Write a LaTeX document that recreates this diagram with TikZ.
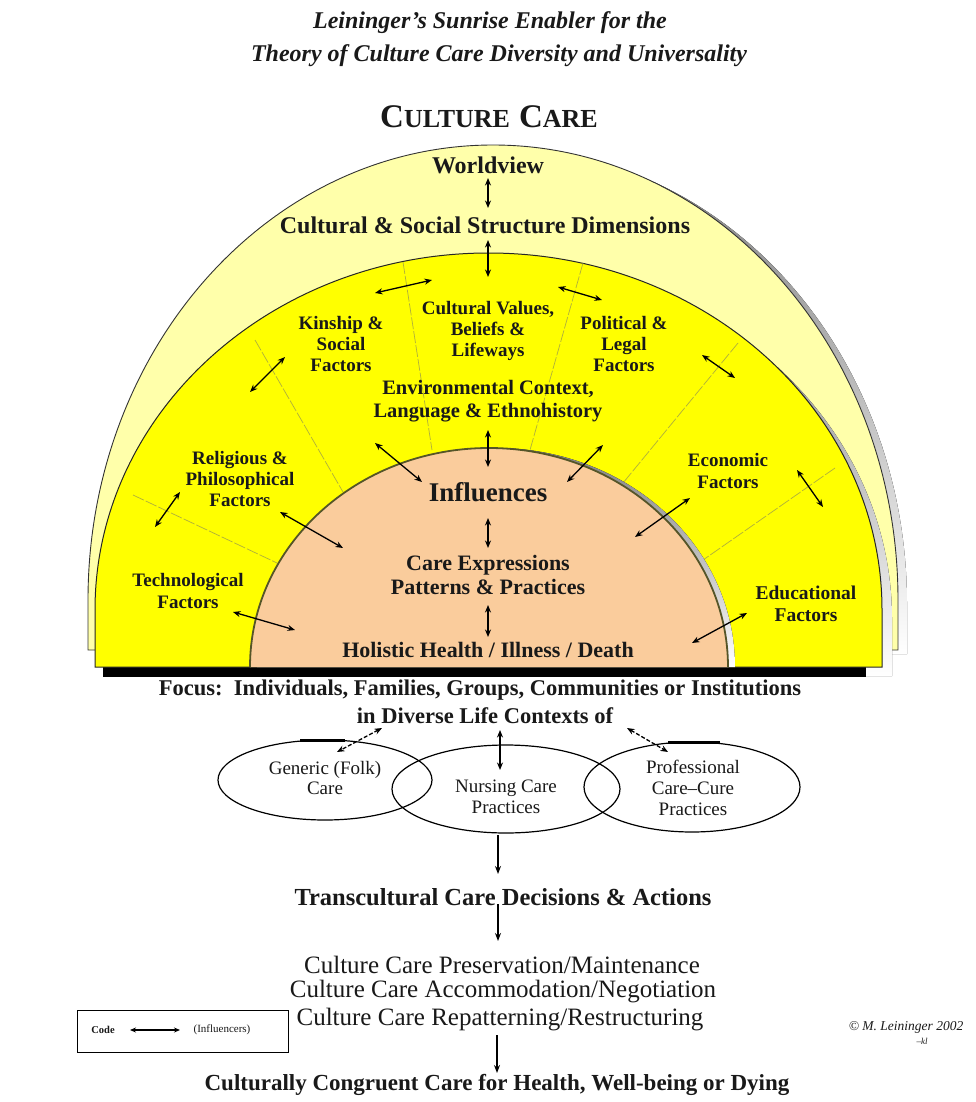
\documentclass[tikz,border=0pt]{standalone}
\usepackage{fontspec}
\setmainfont{Liberation Serif}
\usetikzlibrary{arrows.meta}
\definecolor{paleY}{RGB}{255,255,170}
\definecolor{brightY}{RGB}{255,255,0}
\definecolor{peach}{RGB}{250,204,156}
\definecolor{olive}{RGB}{85,85,40}
\definecolor{divcol}{RGB}{175,175,60}
\definecolor{shade}{RGB}{140,140,140}
\begin{document}
\begin{tikzpicture}[x=1pt,y=-1pt,
  lbl/.style={align=center,inner sep=0pt,text=black!90},
  bf/.style={lbl,font={\pgfmathsetmacro\bsk{#1*1.12}\bfseries\fontsize{#1}{\bsk}\selectfont}},
  rm/.style={lbl,font={\pgfmathsetmacro\bsk{#1*1.1}\fontsize{#1}{\bsk}\selectfont}},
  bi/.style={{Stealth[length=7.5pt,width=6pt]}-{Stealth[length=7.5pt,width=6pt]},line width=1.3pt},
  one/.style={-{Stealth[length=8pt,width=6pt]},line width=1.2pt},
  divline/.style={divcol,line width=0.7pt,dash pattern=on 12pt off 2pt}]
\useasboundingbox[fill=white] (0,0) rectangle (975,1102);

% ---- outer pale band
\begin{scope}[shift={(9,4)}]
\fill[shade] (88,650) -- (88,600) arc[start angle=180,end angle=0,x radius=405pt,y radius=455pt] -- (898,650) -- cycle;
\end{scope}
\filldraw[fill=paleY,draw=black!80,line width=0.9pt] (88,650) -- (88,600) arc[start angle=180,end angle=0,x radius=405pt,y radius=455pt] -- (898,650) -- cycle;

% ---- yellow band
\begin{scope}[shift={(10,9)}]
\fill[shade] (95,667) -- (95,610) arc[start angle=180,end angle=0,x radius=393.5pt,y radius=357pt] -- (882,667) -- cycle;
\end{scope}
\fill[black] (103,666) rectangle (866,677);
\filldraw[fill=brightY,draw=black!85,line width=1pt] (95,667) -- (95,610) arc[start angle=180,end angle=0,x radius=393.5pt,y radius=357pt] -- (882,667) -- cycle;

% ---- dividers
\draw[divline] (133,495) -- (277,563);
\draw[divline] (255,340) -- (343,492);
\draw[divline] (403,262) -- (432,450);
\draw[divline] (583,263) -- (530,450);
\draw[divline] (738,343) -- (623,483);
\draw[divline] (835,468) -- (703,560);

% ---- peach core
\fill[shade] (257,667) arc[start angle=180,end angle=0,x radius=239pt,y radius=219pt] -- cycle;
\fill[peach] (250,667) arc[start angle=180,end angle=0,x radius=239pt,y radius=219pt] -- cycle;
\draw[olive,line width=1.8pt] (250,667) arc[start angle=180,end angle=0,x radius=239pt,y radius=219pt];

% ---- titles
\node[lbl,font=\bfseries\itshape\fontsize{24}{28}\selectfont] (t1) at (490,23) {Leininger’s Sunrise Enabler for the};
\node[lbl,font=\bfseries\itshape\fontsize{24}{28}\selectfont] (t2) at (499,56) {Theory of Culture Care Diversity and Universality};
\node[lbl,font=\bfseries] (cc) at (489,117) {{\fontsize{33}{33}\selectfont C}{\fontsize{26}{33}\selectfont ULTURE}\hspace{9pt}{\fontsize{33}{33}\selectfont C}{\fontsize{26}{33}\selectfont ARE}};

% ---- arch labels
\node[bf=24] (wv) at (488,165) {Worldview};
\node[bf=24] (css) at (485,225) {Cultural \& Social Structure Dimensions};
\node[bf=19] (kin) at (341,344) {Kinship \&\\Social\\Factors};
\node[bf=19] (cvb) at (488,331) {Cultural Values,\\Beliefs \&\\Lifeways};
\node[bf=19] (pol) at (624,344) {Political \&\\Legal\\Factors};
\node[bf=20.5] (env) at (488,401) {Environmental Context,\\Language \& Ethnohistory};
\node[bf=19] (rel) at (240,479) {Religious \&\\Philosophical\\Factors};
\node[bf=19] (eco) at (728,471) {Economic\\Factors};
\node[bf=27] (inf) at (488,492) {Influences};
\node[bf=22] (cep) at (488,575) {Care Expressions\\Patterns \& Practices};
\node[bf=19] (tec) at (188,591) {Technological\\Factors};
\node[bf=19.5] (edu) at (806,604) {Educational\\Factors};
\node[bf=22] (hol) at (488,650) {Holistic Health / Illness / Death};

% ---- arch arrows
\foreach \n/\ax/\ay/\bx/\by in {
  a1/488/178/488/208, a2/488/240/488/277, a3/488/430/488/467,
  a4/488/518/488/548, a5/488/605/488/637, a6/375/293/432/280,
  a7/558/287/602/300, a8/285/357/250/392, a9/702/355/735/378,
  a10/180/492/155/527, a11/797/470/823/507, a12/375/443/422/482,
  a13/603/445/567/482, a14/280/512/343/548, a15/690/498/635/537,
  a16/233/612/295/630, a17/747/613/692/643}{
  \coordinate (\n s) at (\ax,\ay);
  \coordinate (\n e) at (\bx,\by);
  \draw[bi] (\n s) -- (\n e);
}

% ---- focus
\node[bf=22.5] (foc) at (480,690) {Focus:\ \ Individuals, Families, Groups, Communities or Institutions};
\node[bf=22.5] (ctx) at (485,716) {in Diverse Life Contexts of};

% ---- three care systems
\draw[line width=1.2pt] (325,780) ellipse[x radius=107pt,y radius=40pt];
\draw[line width=1.2pt] (506,789) ellipse[x radius=114pt,y radius=44pt];
\draw[line width=1.2pt] (692,787) ellipse[x radius=108pt,y radius=45pt];
\draw[line width=2.4pt] (300,740.5) -- (345,740.5);
\draw[line width=2.4pt] (668,742.5) -- (720,742.5);
\node[rm=19] (gen) at (325,778) {Generic (Folk)\\Care};
\node[rm=19] (nur) at (506,797) {Nursing Care\\Practices};
\node[rm=19] (pro) at (693,788) {Professional\\Care–Cure\\Practices};
\coordinate (e1s) at (382,728); \coordinate (e1e) at (337,752);
\coordinate (e2s) at (500,730); \coordinate (e2e) at (500,770);
\coordinate (e3s) at (627,728); \coordinate (e3e) at (668,752);
\draw[bi,dash pattern=on 4pt off 2pt] (e1s) -- (e1e);
\draw[bi] (e2s) -- (e2e);
\draw[bi,dash pattern=on 4pt off 2pt] (e3s) -- (e3e);

% ---- decisions and outcome
\node[bf=24.5] (tcd) at (503,897) {Transcultural Care Decisions \& Actions};
\node[rm=25] (pre) at (502,965) {Culture Care Preservation/Maintenance};
\node[rm=25] (acc) at (503,992) {Culture Care Accommodation/Negotiation};
\node[rm=25] (rep) at (500,1020) {Culture Care Repatterning/Restructuring};
\node[bf=23] (ccc) at (497,1085) {Culturally Congruent Care for Health, Well-being or Dying};
\coordinate (d1s) at (498,835); \coordinate (d1e) at (498,874);
\coordinate (d2s) at (498,904); \coordinate (d2e) at (498,941);
\coordinate (d3s) at (497,1035); \coordinate (d3e) at (497,1073);
\draw[one] (d1s) -- (d1e);
\draw[one] (d2s) -- (d2e);
\draw[one] (d3s) -- (d3e);

% ---- code box and credit
\node[draw,line width=1pt,minimum width=211pt,minimum height=42pt,inner sep=0pt] (box) at (182.5,1031) {};
\node[lbl,font=\bfseries\fontsize{10.5}{12}\selectfont] (code) at (103,1030) {Code};
\node[lbl,font=\fontsize{11}{12}\selectfont] (infl) at (222,1030) {(Influencers)};
\coordinate (k1) at (130,1030); \coordinate (k2) at (180,1030);
\draw[{Stealth[length=6pt,width=5pt]}-{Stealth[length=6pt,width=5pt]},line width=1.1pt] (k1) -- (k2);
\node[lbl,font=\itshape\fontsize{13.5}{15}\selectfont] (copy) at (906,1027) {© M. Leininger 2002};
\node[lbl,font=\itshape\fontsize{9}{10}\selectfont] (kl) at (922,1041) {–kl};
\end{tikzpicture}
\end{document}
